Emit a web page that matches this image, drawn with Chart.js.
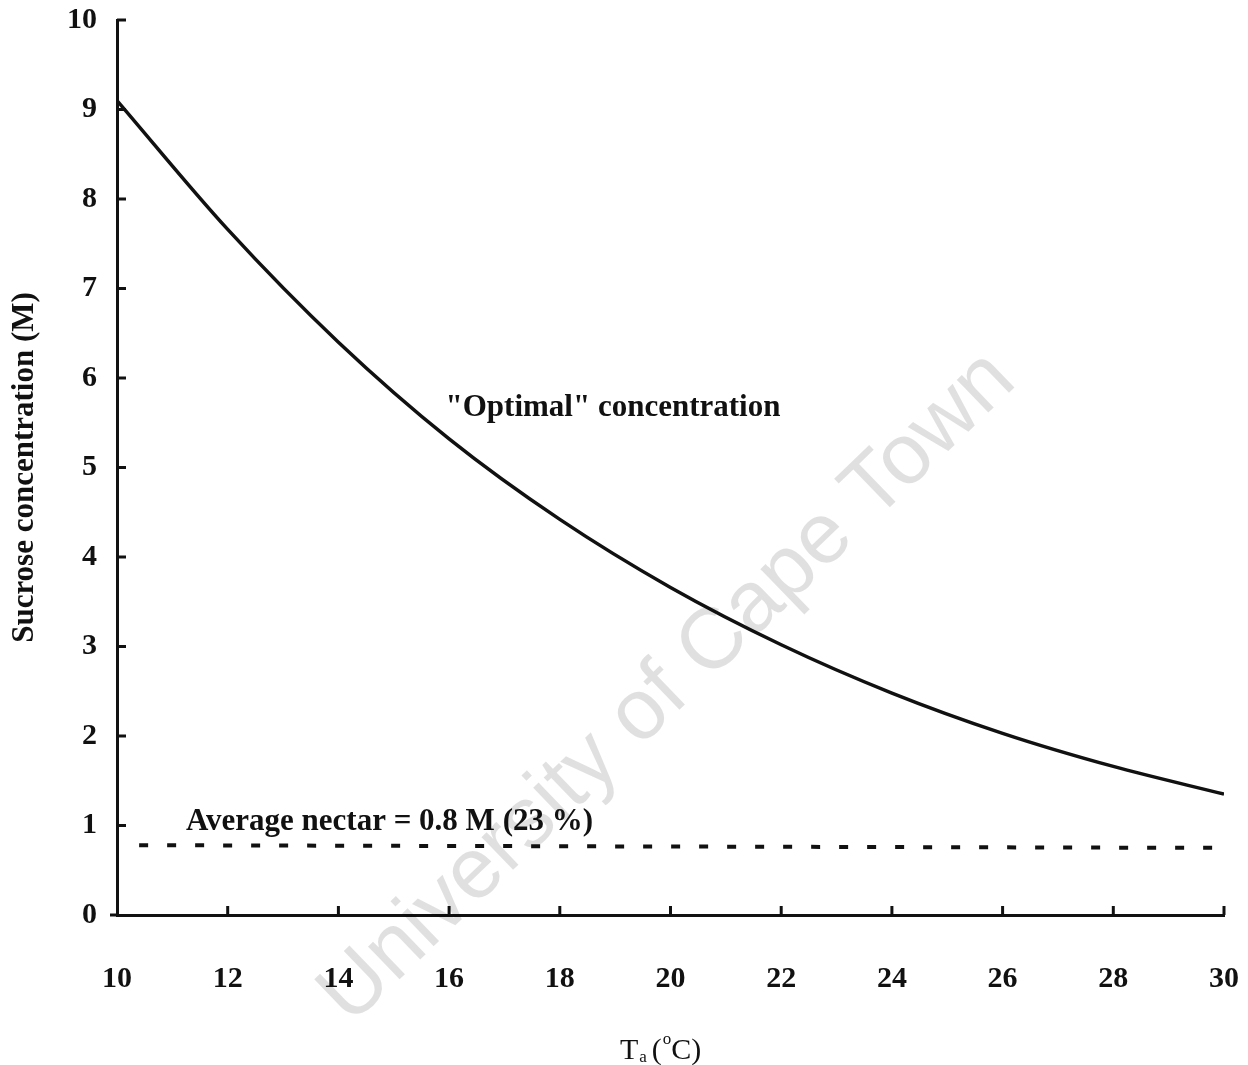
<!DOCTYPE html>
<html>
<head>
<meta charset="utf-8">
<script src="https://cdn.jsdelivr.net/npm/chart.js@4.4.0/dist/chart.umd.min.js"></script>
<style>
  html, body { margin: 0; padding: 0; background: #fff; }
  #wrap { width: 1248px; height: 1065px; }
</style>
</head>
<body>
<div id="wrap"><canvas id="myChart" width="1248" height="1065"></canvas></div>
<script>
// data
const temps = [10, 12, 14, 16, 18, 20, 22, 24, 26, 28, 30];
const optimal = [9.1, 7.66, 6.4, 5.32, 4.42, 3.66, 3.02, 2.48, 2.03, 1.66, 1.35];
const nectarX = [10.4, 29.8];
const nectarY = [0.78, 0.75];
const xTicks = [10, 12, 14, 16, 18, 20, 22, 24, 26, 28, 30];
const yTicks = [0, 1, 2, 3, 4, 5, 6, 7, 8, 9, 10];

const serif = "'Liberation Serif', 'Times New Roman', serif";

let optimalPts = temps.map((t, i) => ({ x: t, y: optimal[i] }));
let nectarPts = nectarX.map((t, i) => ({ x: t, y: nectarY[i] }));

// inward tick marks, labels in the plot and the watermark
const extras = {
  id: 'extras',
  beforeDatasetsDraw(chart) {
    const ctx = chart.ctx;
    ctx.save();
    ctx.translate(668, 688);
    ctx.rotate(-Math.PI / 4.1);
    ctx.fillStyle = 'rgba(0,0,0,0.12)';
    ctx.font = "86px 'Liberation Sans', Arial, sans-serif";
    ctx.textAlign = 'center';
    ctx.textBaseline = 'middle';
    ctx.fillText('University of Cape Town', 0, 0);
    ctx.restore();
  },
  afterDraw(chart) {
    const ctx = chart.ctx;
    const x = chart.scales.x, y = chart.scales.y;
    ctx.save();
    ctx.strokeStyle = '#111';
    ctx.lineWidth = 3;
    xTicks.forEach(v => {
      if (v === 10) return;
      const px = x.getPixelForValue(v);
      ctx.beginPath();
      ctx.moveTo(px, y.bottom);
      ctx.lineTo(px, y.bottom - 9);
      ctx.stroke();
    });
    yTicks.forEach(v => {
      if (v === 0) return;
      const py = y.getPixelForValue(v);
      ctx.beginPath();
      ctx.moveTo(x.left, py);
      ctx.lineTo(x.left + 9, py);
      ctx.stroke();
    });
    // x axis extends a bit left of the y axis
    ctx.beginPath();
    ctx.moveTo(x.left - 7, y.bottom);
    ctx.lineTo(x.left, y.bottom);
    ctx.stroke();

    ctx.fillStyle = '#111';
    ctx.font = 'bold 31px ' + serif;
    ctx.textBaseline = 'middle';
    ctx.textAlign = 'center';
    ctx.fillText('"Optimal" concentration', 613, 408);
    ctx.textAlign = 'left';
    ctx.fillText('Average nectar = 0.8 M (23 %)', 186, 822);

    // x axis title with sub/superscript
    ctx.font = '30px ' + serif;
    ctx.textAlign = 'left';
    ctx.textBaseline = 'alphabetic';
    let cx = 620, base = 1059;
    ctx.fillText('T', cx, base); cx += ctx.measureText('T').width;
    ctx.font = '17px ' + serif;
    ctx.fillText('a', cx + 1, base + 3); cx += ctx.measureText('a').width + 6;
    ctx.font = '30px ' + serif;
    ctx.fillText('(', cx, base); cx += ctx.measureText('(').width + 1;
    ctx.font = '17px ' + serif;
    ctx.fillText('o', cx, base - 15); cx += ctx.measureText('o').width;
    ctx.font = '30px ' + serif;
    ctx.fillText('C)', cx, base);
    ctx.restore();
  }
};

let config = {
  type: 'line',
  data: {
    datasets: [{
      label: 'Optimal',
      data: optimalPts,
      borderColor: '#111',
      borderWidth: 3.5,
      pointRadius: 0,
      cubicInterpolationMode: 'monotone',
      fill: false
    }, {
      label: 'Average nectar',
      data: nectarPts,
      borderColor: '#111',
      borderWidth: 4,
      borderDash: [9, 19],
      pointRadius: 0,
      fill: false
    }]
  },
  options: {
    responsive: false,
    animation: false,
    layout: { padding: { top: 20, right: 24, left: 0, bottom: 0 } },
    plugins: { legend: { display: false }, tooltip: { enabled: false } },
    scales: {
      x: {
        type: 'linear',
        min: 10, max: 30,
        grid: { display: false },
        border: { display: true, color: '#111', width: 3 },
        afterBuildTicks(s) { s.ticks = xTicks.map(v => ({ value: v })); },
        afterFit(s) { s.height = 150; s.paddingLeft = 0; s.paddingRight = 0; },
        ticks: {
          color: '#111',
          padding: 38,
          maxRotation: 0,
          font: { family: serif, size: 30, weight: 'bold' }
        }
      },
      y: {
        min: 0, max: 10,
        grid: { display: false },
        border: { display: true, color: '#111', width: 3 },
        afterBuildTicks(s) { s.ticks = yTicks.map(v => ({ value: v })); },
        afterFit(s) { s.width = 117; s.paddingTop = 0; s.paddingBottom = 0; },
        ticks: {
          color: '#111',
          padding: 12,
          font: { family: serif, size: 30, weight: 'bold' }
        },
        title: {
          display: true,
          text: 'Sucrose concentration (M)',
          color: '#111',
          padding: { top: 6, bottom: 0 },
          font: { family: serif, size: 31, weight: 'bold' }
        }
      }
    }
  },
  plugins: [extras]
};

let myChart = new Chart(document.getElementById('myChart'), config);
</script>
</body>
</html>
